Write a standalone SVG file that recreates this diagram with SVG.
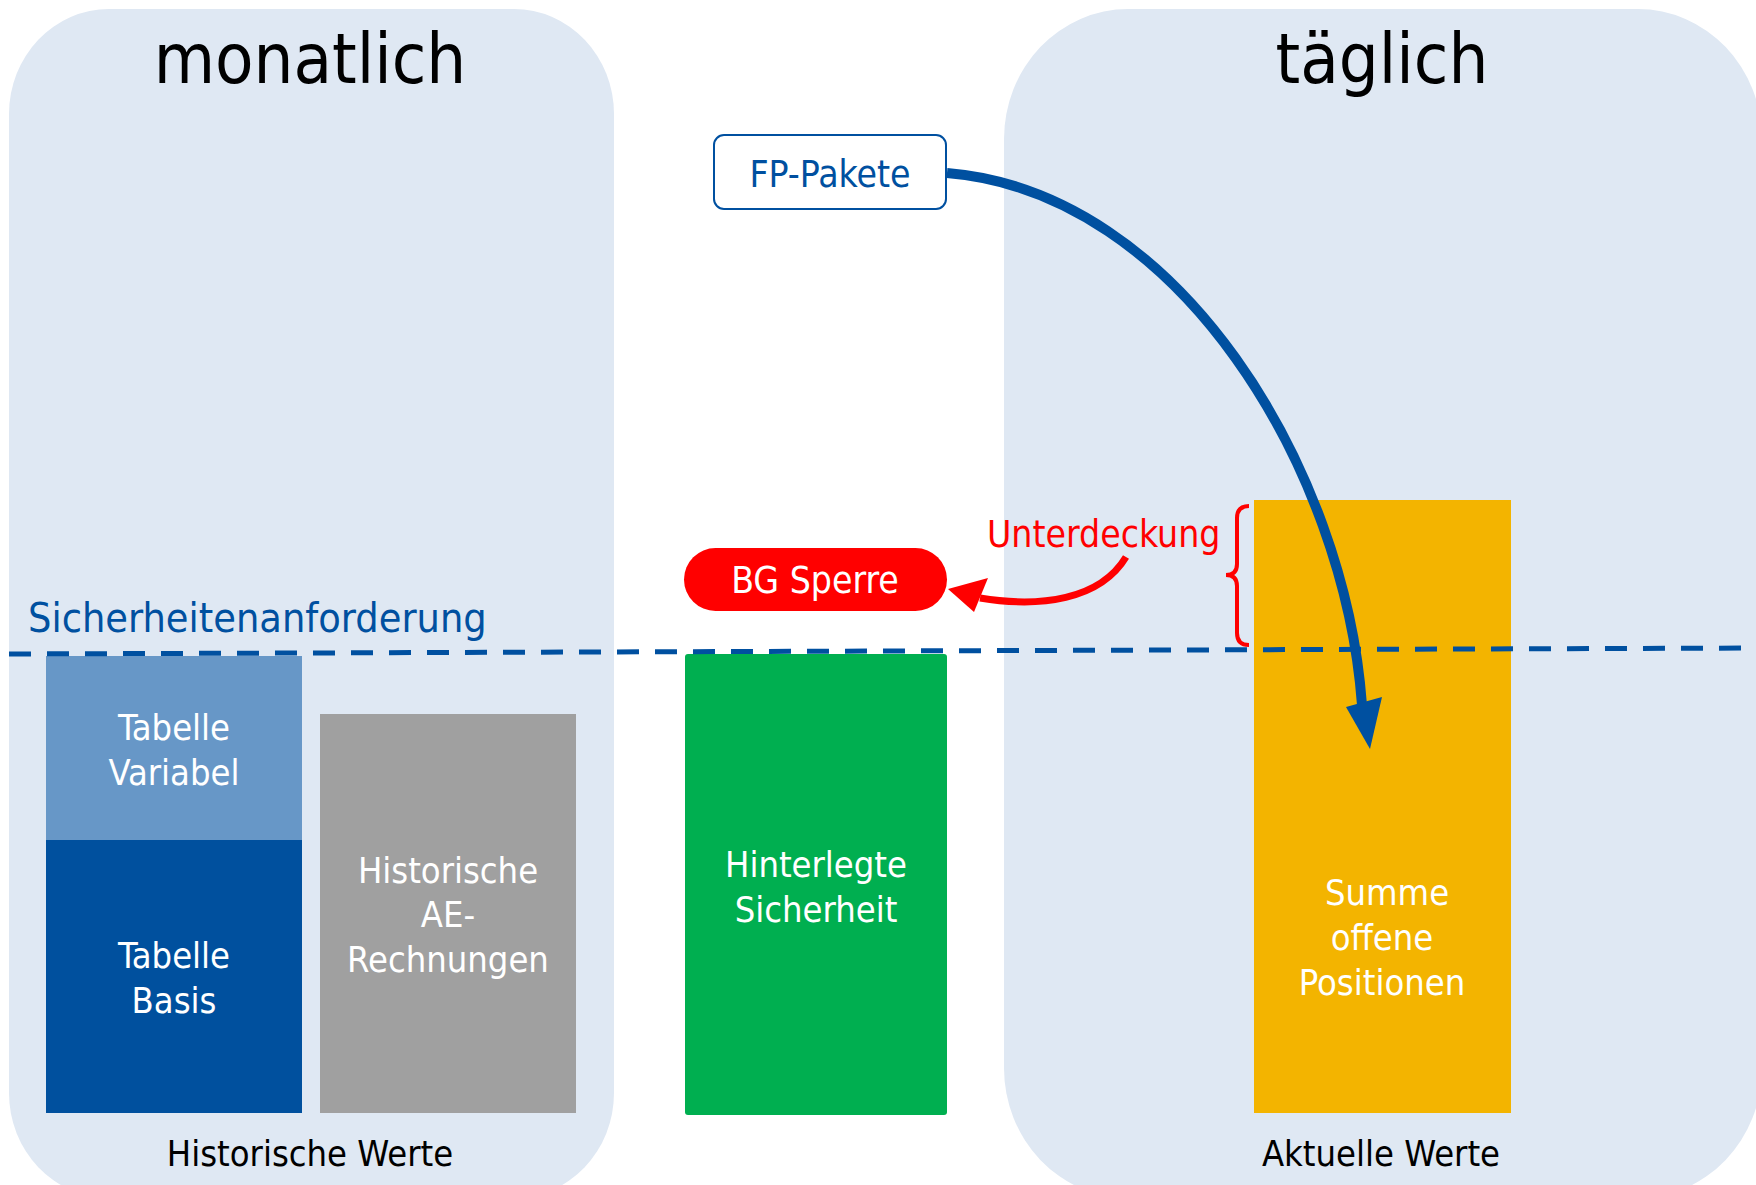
<svg xmlns="http://www.w3.org/2000/svg" width="1756" height="1185" viewBox="0 0 1756 1185">
<style>
text{font-family:"DejaVu Sans Condensed","DejaVu Sans","Liberation Sans",sans-serif;}
.title{font-size:70px;fill:#000;text-anchor:middle;}
.lbl{font-size:36px;fill:#fff;text-anchor:middle;}
.foot{font-size:36px;fill:#000;text-anchor:middle;}
.panel{fill:#DFE8F3;}
</style>
<rect width="1756" height="1185" fill="#fff"/>
<g id="panel-monatlich">
<rect class="panel" x="9" y="9" width="605" height="1189" rx="100" ry="105"/>
<text class="title" x="310" y="83">monatlich</text>
<text class="foot" x="310" y="1166">Historische Werte</text>
</g>
<g id="panel-taeglich">
<rect class="panel" x="1004" y="9" width="758" height="1189" rx="124" ry="130"/>
<text class="title" x="1382" y="83">täglich</text>
<text class="foot" x="1381" y="1166">Aktuelle Werte</text>
</g>
<g id="tabelle-variabel">
<rect x="46" y="656" width="256" height="184" fill="#6797C7"/>
<text class="lbl" x="174" y="740">Tabelle</text>
<text class="lbl" x="174" y="785">Variabel</text>
</g>
<g id="tabelle-basis">
<rect x="46" y="840" width="256" height="273" fill="#00509E"/>
<text class="lbl" x="174" y="968">Tabelle</text>
<text class="lbl" x="174" y="1013">Basis</text>
</g>
<g id="historische-ae">
<rect x="320" y="714" width="256" height="399" fill="#A0A0A0"/>
<text class="lbl" x="448" y="883">Historische</text>
<text class="lbl" x="448" y="927">AE-</text>
<text class="lbl" x="448" y="972">Rechnungen</text>
</g>
<g id="hinterlegte-sicherheit">
<rect x="685" y="654" width="262" height="461" rx="3" fill="#00AF50"/>
<text class="lbl" x="816" y="877">Hinterlegte</text>
<text class="lbl" x="816" y="922">Sicherheit</text>
</g>
<g id="summe-offene-positionen">
<rect x="1254" y="500" width="257" height="613" fill="#F3B400"/>
<text class="lbl" x="1387" y="905">Summe</text>
<text class="lbl" x="1382" y="950">offene</text>
<text class="lbl" x="1382" y="995">Positionen</text>
</g>
<g id="fp-pakete">
<rect x="714" y="135" width="232" height="74" rx="10" fill="#fff" stroke="#0050A0" stroke-width="2"/>
<text x="830" y="187" font-size="37" fill="#0050A0" text-anchor="middle">FP-Pakete</text>
</g>
<g id="bg-sperre">
<rect x="684" y="548" width="263" height="63" rx="31.5" fill="#FF0000"/>
<text x="815" y="593" font-size="37" fill="#fff" text-anchor="middle">BG Sperre</text>
</g>
<g id="sicherheitenanforderung">
<text x="28" y="632" font-size="41" fill="#0050A0">Sicherheitenanforderung</text>
</g>
<g id="unterdeckung">
<text x="987" y="547" font-size="37" fill="#FF0000">Unterdeckung</text>
<path d="M1249,506 Q1237,506 1237,518 L1237,564 Q1237,575 1226,575 Q1237,575 1237,586 L1237,633 Q1237,645 1249,645" fill="none" stroke="#FF0000" stroke-width="4"/>
</g>
<g id="connectors">
<line x1="9" y1="654" x2="1756" y2="648" stroke="#0050A0" stroke-width="5" stroke-dasharray="22 16"/>
<path d="M947,173 C1180,192 1345,470 1362,705" fill="none" stroke="#0050A0" stroke-width="10"/>
<polygon points="1370,749 1346,707 1382,697" fill="#0050A0"/>
<path d="M1126,557 C1100,600 1040,608 980,598" fill="none" stroke="#FF0000" stroke-width="7"/>
<polygon points="948,589 988,578 974,612" fill="#FF0000"/>
</g>
</svg>
